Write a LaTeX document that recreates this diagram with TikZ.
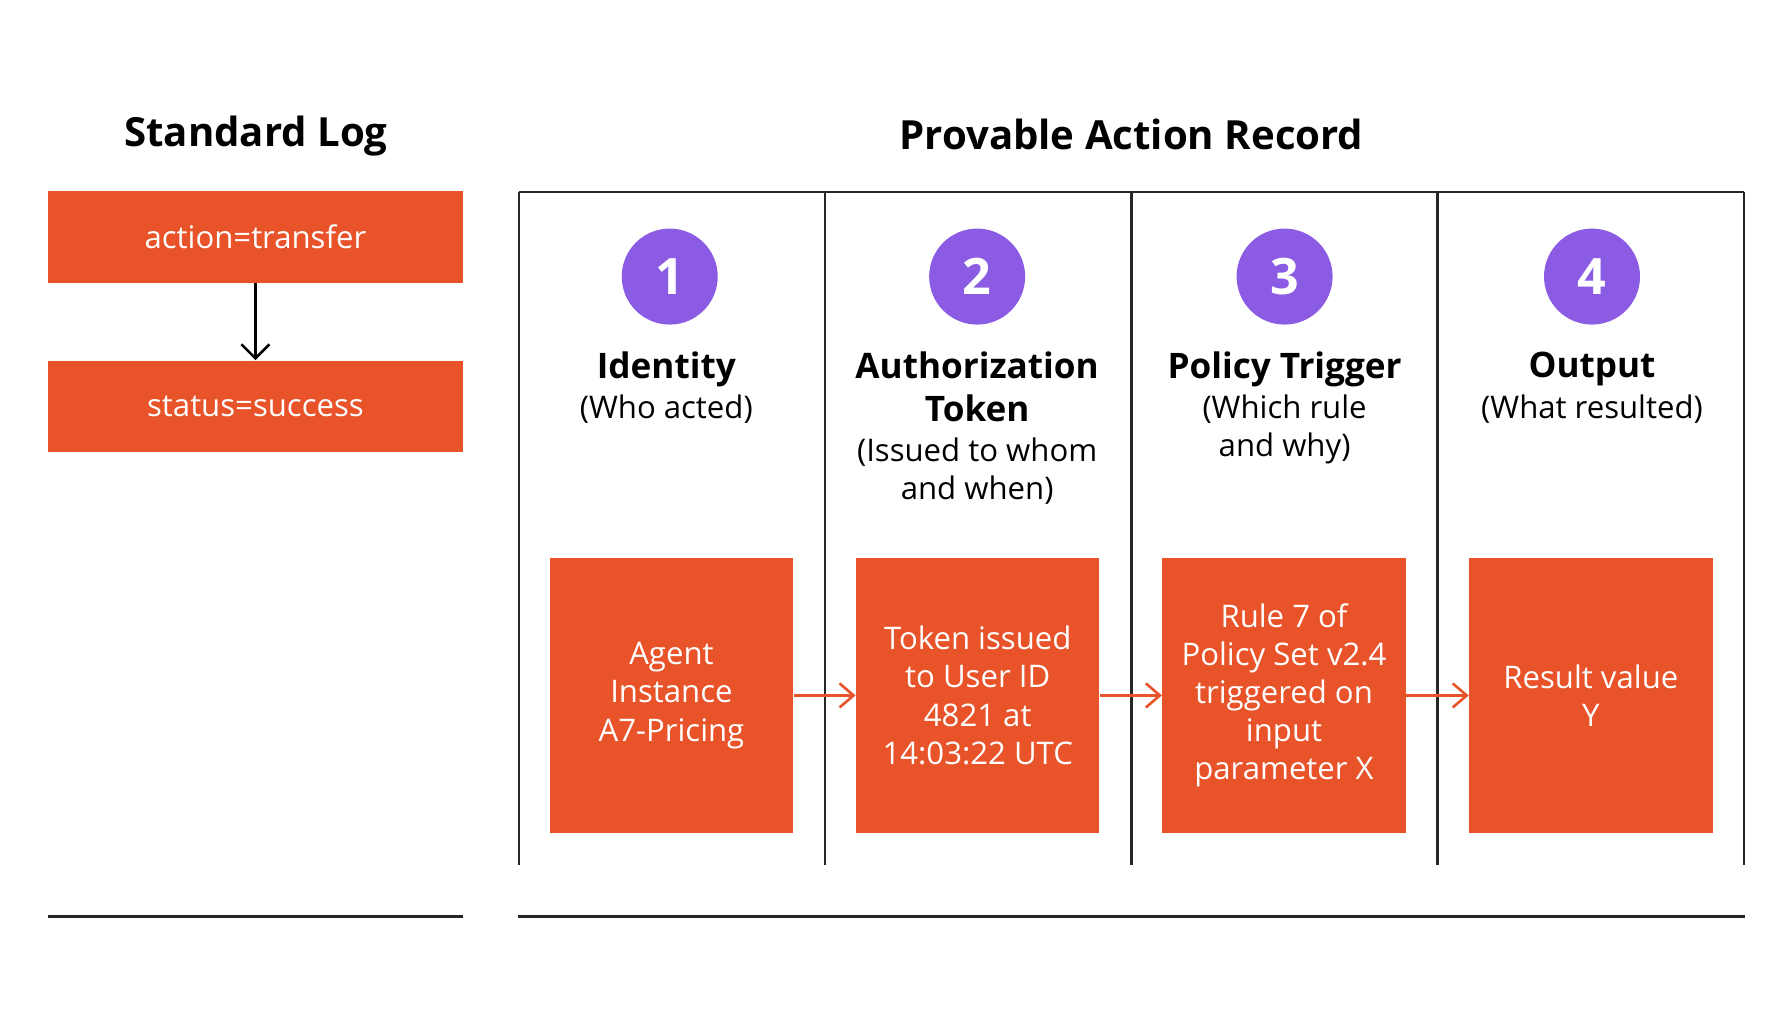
\documentclass[tikz,border=0pt]{standalone}
\usepackage{fontspec}
\usetikzlibrary{arrows.meta}
\setmainfont{Open Sans}
\begin{document}
\begin{tikzpicture}[x=0.02cm,y=-0.02cm,
 ob/.style={fill=orange1,draw=none,text=white,align=center,font=\fontsize{15.5}{19}\selectfont},
 num/.style={circle,fill=purp,minimum size=84*0.02cm,inner sep=0,text=white,font=\fontsize{25}{30}\selectfont\bfseries},
 hd/.style={align=center,font=\fontsize{17.5}{21}\selectfont\bfseries,anchor=north},
 sb/.style={align=center,font=\fontsize{15.5}{19}\selectfont,anchor=north},
 oarr/.style={-{Straight Barb[length=7pt,width=12pt]},draw=orange1,line width=1.3pt},
 frame/.style={line width=1.3pt,draw=black!85}]
\definecolor{orange1}{HTML}{E9532A}
\definecolor{purp}{HTML}{8B5CE3}
\useasboundingbox (0,0) rectangle (1568,896);
\node[font=\fontsize{20}{24}\selectfont\bfseries] (t1) at (224,119) {Standard Log};
\node[font=\fontsize{20}{24}\selectfont\bfseries] (t2) at (990,118) {Provable Action Record};
\node[ob,minimum width=363*0.02cm,minimum height=80*0.02cm] (s1) at (223.5,207.5) {action=transfer};
\node[ob,minimum width=363*0.02cm,minimum height=80*0.02cm] (s2) at (223.5,355.5) {status=success};
\draw[-{Straight Barb[length=7pt,width=14pt]},line width=1.3pt] (s1) -- (s2);
\coordinate (l1) at (42,802); \coordinate (l2) at (405,802);
\draw[frame] (l1) -- (l2);
\coordinate (l3) at (453,802); \coordinate (l4) at (1527,802);
\draw[frame] (l3) -- (l4);
\coordinate (ft1) at (454,168); \coordinate (ft2) at (1526,168);
\draw[frame] (ft1) -- (ft2);
\foreach \x in {454,722,990,1258,1526}{\draw[frame] (\x,168) -- (\x,757);}
\node[num] (c1) at (586,242) {1};
\node[num] (c2) at (855,242) {2};
\node[num] (c3) at (1124,242) {3};
\node[num] (c4) at (1393,242) {4};
\node[hd] (h1) at (583,302) {Identity};
\node[sb] (u1) at (583,339) {(Who acted)};
\node[hd] (h2) at (855,302) {Authorization\\Token};
\node[sb] (u2) at (855,377) {(Issued to whom\\and when)};
\node[hd] (h3) at (1124,302) {Policy Trigger};
\node[sb] (u3) at (1124,339) {(Which rule\\and why)};
\node[hd] (h4) at (1393,302) {Output};
\node[sb] (u4) at (1393,339) {(What resulted)};
\foreach \n/\x/\t in {b1/587.5/{Agent\\Instance\\A7-Pricing},b2/855.5/{Token issued\\to User ID\\4821 at\\14:03:22 UTC},b3/1123.5/{Rule 7 of\\Policy Set v2.4\\triggered on\\input\\parameter X},b4/1392/{Result value\\Y}}
 {\node[ob,minimum width=213*0.02cm,minimum height=240*0.02cm] (\n) at (\x,608.5) {\t};}
\draw[oarr] (b1) -- (b2);
\draw[oarr] (b2) -- (b3);
\draw[oarr] (b3) -- (b4);
\end{tikzpicture}
\end{document}
